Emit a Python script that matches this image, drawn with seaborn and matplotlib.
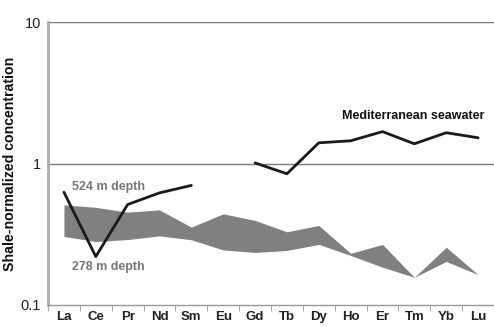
import numpy as np
import matplotlib
matplotlib.use("Agg")
import matplotlib.pyplot as plt
import seaborn as sns

# rare earth elements on the x axis
elements = ['La', 'Ce', 'Pr', 'Nd', 'Sm', 'Eu', 'Gd', 'Tb', 'Dy', 'Ho', 'Er', 'Tm', 'Yb', 'Lu']

# shaded band (range of samples)
band_upper = [0.51, 0.49, 0.453, 0.47, 0.355, 0.441, 0.396, 0.329, 0.365, 0.232, 0.268, 0.157, 0.256, 0.164]
band_lower = [0.305, 0.281, 0.29, 0.308, 0.289, 0.245, 0.235, 0.243, 0.268, 0.224, 0.185, 0.157, 0.203, 0.164]

# sample line La..Sm
sample_elements = ['La', 'Ce', 'Pr', 'Nd', 'Sm']
sample_values = [0.627, 0.22, 0.513, 0.62, 0.70]

# Mediterranean seawater Gd..Lu
sea_elements = ['Gd', 'Tb', 'Dy', 'Ho', 'Er', 'Tm', 'Yb', 'Lu']
sea_values = [1.01, 0.846, 1.40, 1.447, 1.68, 1.378, 1.65, 1.52]

sns.set_style("white")
plt.rcParams['font.family'] = ['Liberation Sans', 'DejaVu Sans']

fig = plt.figure(figsize=(4.94, 3.27), dpi=100)
ax = fig.add_axes([48 / 494, 22 / 327, 1 - 48 / 494, (305 - 22) / 327])

pos = {e: i for i, e in enumerate(elements)}
x_all = np.arange(len(elements))

ax.fill_between(x_all, band_lower, band_upper, color='#808080', linewidth=0)
sns.lineplot(x=[pos[e] for e in sample_elements], y=sample_values, ax=ax,
             color='#1a1a1a', linewidth=2, sort=False)
sns.lineplot(x=[pos[e] for e in sea_elements], y=sea_values, ax=ax,
             color='#1a1a1a', linewidth=2, sort=False)

ax.set_yscale('log')
ax.set_ylim(0.1, 10)
ax.set_xlim(-0.5, 13.4)

ax.axhline(1, color='#7a7a7a', linewidth=1, zorder=0)
ax.axhline(10, color='#7a7a7a', linewidth=1, zorder=0)

ax.set_yticks([0.1, 1, 10])
ax.set_yticklabels(['0.1', '1', '10'])
ax.yaxis.set_minor_locator(matplotlib.ticker.NullLocator())
ax.tick_params(axis='y', length=4, color='#999999', labelsize=10.5, labelcolor='#222222', pad=1)

ax.set_xticks(x_all)
ax.set_xticklabels(elements, fontweight='bold', fontsize=9.5, color='#222222')
ax.set_xticks(np.arange(-0.5, 14, 1), minor=True)
ax.tick_params(axis='x', which='major', length=0, pad=4)
ax.tick_params(axis='x', which='minor', length=4, color='#999999', direction='out')
ax.xaxis.set_tick_params(which='minor', bottom=True)

for side in ['top', 'right']:
    ax.spines[side].set_visible(False)
ax.spines['left'].set_color('#aaaaaa')
ax.spines['left'].set_linewidth(2)
ax.spines['bottom'].set_color('#999999')
ax.spines['bottom'].set_linewidth(1)

ax.set_ylabel('Shale-normalized concentration', fontweight='bold', fontsize=10.2,
              color='#111111')
ax.yaxis.set_label_coords(-(48 - 17) / 446, 0.5)

ax.text(0.25, 0.677, '524 m depth', color='#777777', fontweight='bold', fontsize=9,
        va='center', ha='left')
ax.text(0.25, 0.187, '278 m depth', color='#777777', fontweight='bold', fontsize=9,
        va='center', ha='left')
ax.text(8.74, 2.18, 'Mediterranean seawater', color='#111111', fontweight='bold', fontsize=9,
        va='center', ha='left')

fig.savefig('out.png', dpi=100)
